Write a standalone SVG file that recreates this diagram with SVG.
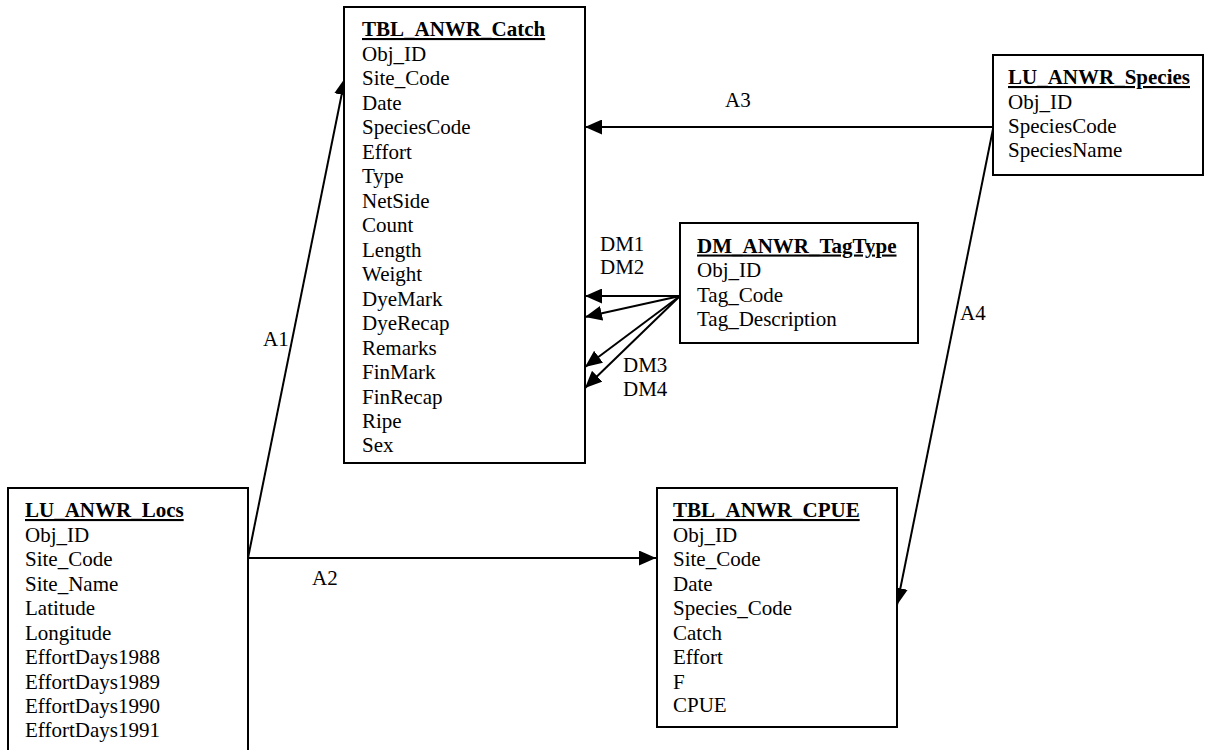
<svg xmlns="http://www.w3.org/2000/svg" width="1207" height="750" viewBox="0 0 1207 750">
<style>
.box{fill:#fff;stroke:#000;stroke-width:2}
text{font-family:"Liberation Serif","Times New Roman",serif;font-size:21px;fill:#000}
.h{font-weight:bold;text-decoration:underline}
.c{stroke:#000;stroke-width:2;fill:none}
</style>
<defs>
<marker id="arr" viewBox="0 0 17 15" refX="17" refY="7.5" markerWidth="17" markerHeight="15" orient="auto" markerUnits="userSpaceOnUse">
<path d="M0,0 L17,7.5 L0,15 Z" fill="#000"/>
</marker>
</defs>
<rect width="1207" height="750" fill="#fff"/>
<g id="connectors">
<line class="c" x1="248" y1="558" x2="345" y2="78" marker-end="url(#arr)"/>
<line class="c" x1="248" y1="558" x2="656" y2="558" marker-end="url(#arr)"/>
<line class="c" x1="993" y1="127" x2="585" y2="127" marker-end="url(#arr)"/>
<line class="c" x1="993" y1="129" x2="897" y2="605" marker-end="url(#arr)"/>
<line class="c" x1="680" y1="296" x2="585" y2="296" marker-end="url(#arr)"/>
<line class="c" x1="680" y1="296" x2="585" y2="317" marker-end="url(#arr)"/>
<line class="c" x1="680" y1="296" x2="585" y2="367" marker-end="url(#arr)"/>
<line class="c" x1="680" y1="296" x2="585" y2="388" marker-end="url(#arr)"/>
<text x="263" y="346">A1</text>
<text x="312" y="585">A2</text>
<text x="725" y="107">A3</text>
<text x="960" y="320">A4</text>
<text x="600" y="251">DM1</text>
<text x="600" y="274">DM2</text>
<text x="623" y="372">DM3</text>
<text x="623" y="396">DM4</text>
</g>
<g id="TBL_ANWR_Catch">
<rect class="box" x="344" y="7" width="241" height="456"/>
<text class="h" x="362" y="36">TBL_ANWR_Catch</text>
<text x="362" y="60.5">Obj_ID</text>
<text x="362" y="85">Site_Code</text>
<text x="362" y="109.5">Date</text>
<text x="362" y="134">SpeciesCode</text>
<text x="362" y="158.5">Effort</text>
<text x="362" y="183">Type</text>
<text x="362" y="207.5">NetSide</text>
<text x="362" y="232">Count</text>
<text x="362" y="256.5">Length</text>
<text x="362" y="281">Weight</text>
<text x="362" y="305.5">DyeMark</text>
<text x="362" y="330">DyeRecap</text>
<text x="362" y="354.5">Remarks</text>
<text x="362" y="379">FinMark</text>
<text x="362" y="403.5">FinRecap</text>
<text x="362" y="428">Ripe</text>
<text x="362" y="452">Sex</text>
</g>
<g id="LU_ANWR_Species">
<rect class="box" x="993" y="55" width="210" height="120"/>
<text class="h" x="1008" y="84">LU_ANWR_Species</text>
<text x="1008" y="108.5">Obj_ID</text>
<text x="1008" y="133">SpeciesCode</text>
<text x="1008" y="157">SpeciesName</text>
</g>
<g id="DM_ANWR_TagType">
<rect class="box" x="680" y="223" width="238" height="120"/>
<text class="h" x="697" y="252.5">DM_ANWR_TagType</text>
<text x="697" y="277">Obj_ID</text>
<text x="697" y="301.5">Tag_Code</text>
<text x="697" y="326">Tag_Description</text>
</g>
<g id="LU_ANWR_Locs">
<path class="box" d="M8,760 L8,488 L248,488 L248,760"/>
<text class="h" x="25" y="517">LU_ANWR_Locs</text>
<text x="25" y="541.5">Obj_ID</text>
<text x="25" y="566">Site_Code</text>
<text x="25" y="590.5">Site_Name</text>
<text x="25" y="615">Latitude</text>
<text x="25" y="639.5">Longitude</text>
<text x="25" y="664">EffortDays1988</text>
<text x="25" y="688.5">EffortDays1989</text>
<text x="25" y="713">EffortDays1990</text>
<text x="25" y="737">EffortDays1991</text>
</g>
<g id="TBL_ANWR_CPUE">
<rect class="box" x="657" y="488" width="240" height="239"/>
<text class="h" x="673" y="517">TBL_ANWR_CPUE</text>
<text x="673" y="541.5">Obj_ID</text>
<text x="673" y="566">Site_Code</text>
<text x="673" y="590.5">Date</text>
<text x="673" y="615">Species_Code</text>
<text x="673" y="639.5">Catch</text>
<text x="673" y="664">Effort</text>
<text x="673" y="688.5">F</text>
<text x="673" y="712">CPUE</text>
</g>
</svg>
